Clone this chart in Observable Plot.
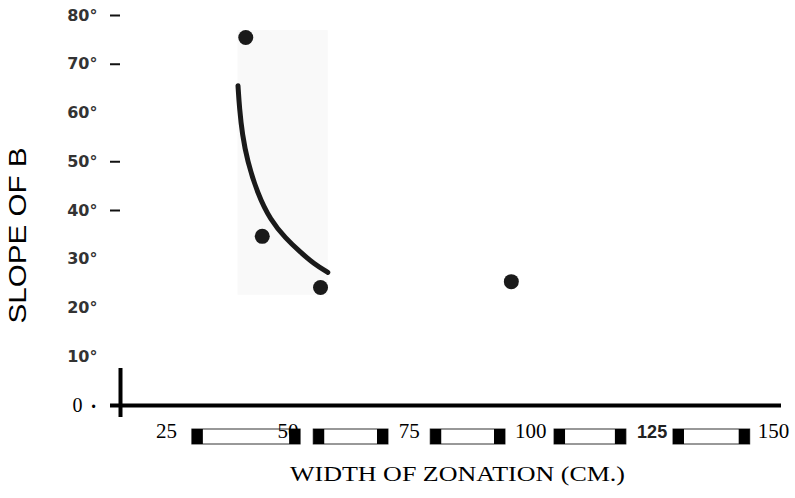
<!DOCTYPE html>
<html>
<head>
<meta charset="utf-8">
<script src="https://cdn.jsdelivr.net/npm/d3@7"></script>
<script src="https://cdn.jsdelivr.net/npm/@observablehq/plot@0.6"></script>
<style>
  html, body { margin: 0; padding: 0; background: #fff; }
</style>
</head>
<body>
<div id="chart"></div>
<script>
// ---- data ----
const xTicks = [25, 50, 75, 100, 125, 150];
const yTicks = [10, 20, 30, 40, 50, 60, 70, 80];
const yDashTicks = [40, 50, 70, 80];
const xTitle = "WIDTH OF ZONATION (CM.)";
const yTitle = "SLOPE OF B";

// observed points (width of zonation cm, slope degrees)
const widthCm = [41.3, 44.7, 56.7, 96.0];
const slopeDeg = [75.5, 34.7, 24.2, 25.4];

// fitted curve as drawn
const curveX = [39.7, 40.0, 40.6, 41.6, 43.7, 46.4, 49.5, 52.6, 55.3, 58.2];
const curveY = [65.6, 61.0, 55.5, 50.3, 43.5, 38.0, 34.3, 31.4, 29.1, 27.3];

// scale-bar segments along the x axis
const segStart = [30.3, 55.3, 79.4, 104.9, 129.4];
const segEnd = [52.6, 70.7, 94.8, 119.7, 145.2];

// pasted inset panel extent
const panelX = [39.7, 58.3];
const panelY = [22.6, 76.9];

const xDomain = [15.5, 150];

const points = widthCm.map((x, i) => ({x, y: slopeDeg[i]}));
const curve = curveX.map((x, i) => ({x, y: curveY[i]}));
const segs = segStart.map((s, i) => ({s, e: segEnd[i]}));
const panel = [{x1: panelX[0], x2: panelX[1], y1: panelY[0], y2: panelY[1]}];

const serif = "'Liberation Serif', 'DejaVu Serif', serif";
const sans = "'Liberation Sans', Arial, sans-serif";

const barInset = {insetTop: 414, insetBottom: -39};

const chart = Plot.plot({
  width: 795,
  height: 498,
  marginLeft: 120,
  marginRight: 22,
  marginTop: 15,
  marginBottom: 93,
  x: {domain: xDomain, axis: null},
  y: {domain: [0, 80], axis: null},
  style: {background: "#fff", color: "#000", overflow: "visible"},
  marks: [
    Plot.rect(panel, {x1: "x1", x2: "x2", y1: "y1", y2: "y2", fill: "#f9f9f9"}),
    // axes
    Plot.ruleY([0], {stroke: "#000", strokeWidth: 4, insetLeft: -10, insetRight: -8}),
    Plot.ruleX([xDomain[0]], {stroke: "#000", strokeWidth: 4, insetTop: 353, insetBottom: -12}),
    Plot.ruleY(yDashTicks, {stroke: "#111", strokeWidth: 2, insetLeft: -10, insetRight: 653}),
    // y tick labels
    Plot.text(yTicks, {y: d => d, text: d => d + "°", frameAnchor: "left", textAnchor: "end", dx: -23,
      fontFamily: "'DejaVu Sans', sans-serif", fontWeight: "bold", fontSize: 16, fill: "#333"}),
    Plot.text([0], {y: d => d, text: () => "0", frameAnchor: "left", textAnchor: "end", dx: -38,
      fontFamily: serif, fontSize: 20, fill: "#000"}),
    Plot.text([0], {y: d => d, text: () => "•", frameAnchor: "left", textAnchor: "middle", dx: -27, dy: 2,
      fontFamily: sans, fontSize: 12, fill: "#000"}),
    // curve and points
    Plot.line(curve, {x: "x", y: "y", curve: "basis", stroke: "#1a1a1a", strokeWidth: 5}),
    Plot.dot(points, {x: "x", y: "y", r: 7.5, fill: "#1a1a1a", stroke: "none"}),
    // scale bar segments
    Plot.rect(segs, {x1: "s", x2: "e", ...barInset, fill: "#fff", stroke: "#333", strokeWidth: 1}),
    // x tick labels
    Plot.text(xTicks.filter(d => d !== 125), {x: d => d, text: d => String(d), frameAnchor: "bottom", dy: 32,
      fontFamily: serif, fontSize: 21, fill: "#000"}),
    Plot.text(xTicks.filter(d => d === 125), {x: d => d, text: d => String(d), frameAnchor: "bottom", dy: 32,
      fontFamily: sans, fontWeight: "bold", fontSize: 18, fill: "#222"}),
    // black end caps
    Plot.rect(segs, {x1: "s", x2: "s", insetRight: -11, ...barInset, fill: "#000"}),
    Plot.rect(segs, {x1: "e", x2: "e", insetLeft: -11, ...barInset, fill: "#000"}),
    // titles
    Plot.text([yTitle], {text: d => d, frameAnchor: "left", textAnchor: "start", dx: -102, dy: 113, rotate: -90,
      fontFamily: sans, fontSize: 23, fill: "#000"}),
    Plot.text([xTitle], {text: d => d, frameAnchor: "bottom", dx: 10.5, dy: 75,
      fontFamily: serif, fontSize: 21, fill: "#000"})
  ]
});

d3.select(chart).selectAll("text")
  .filter(function() { return this.textContent === xTitle; })
  .attr("textLength", 335).attr("lengthAdjust", "spacingAndGlyphs");
d3.select(chart).selectAll("text")
  .filter(function() { return this.textContent === yTitle; })
  .attr("textLength", 176).attr("lengthAdjust", "spacingAndGlyphs");

document.getElementById("chart").appendChild(chart);
</script>
</body>
</html>
